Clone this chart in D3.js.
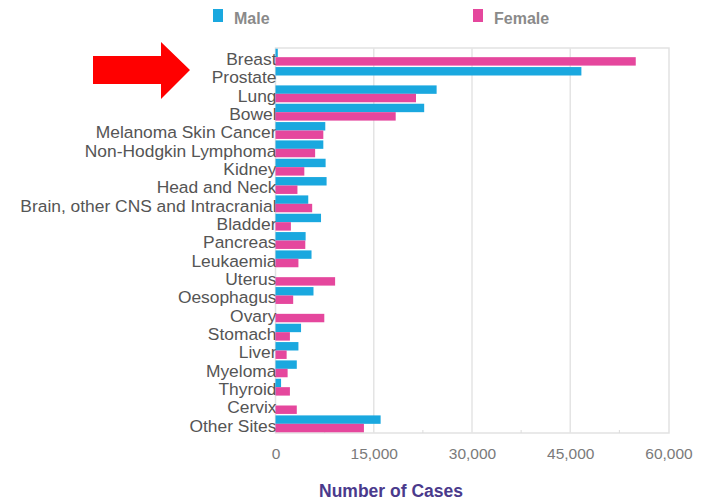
<!DOCTYPE html>
<html>
<head>
<meta charset="utf-8">
<script src="https://cdn.jsdelivr.net/npm/d3@7"></script>
<style>
  html, body { margin: 0; padding: 0; background: #fff; }
  svg { display: block; font-family: "Liberation Sans", Arial, sans-serif; }
</style>
</head>
<body>
<svg id="chart" width="712" height="501"></svg>
<script>
// Cancer sites, ordered top to bottom
const sites = [
  "Breast", "Prostate", "Lung", "Bowel", "Melanoma Skin Cancer",
  "Non-Hodgkin Lymphoma", "Kidney", "Head and Neck",
  "Brain, other CNS and Intracranial", "Bladder", "Pancreas", "Leukaemia",
  "Uterus", "Oesophagus", "Ovary", "Stomach", "Liver", "Myeloma",
  "Thyroid", "Cervix", "Other Sites"
];
// New cases per year
const maleCases = [
  350, 46700, 24600, 22700, 7600,
  7300, 7650, 7800,
  5000, 6950, 4600, 5500,
  0, 5800, 0, 3900, 3500, 3250,
  850, 0, 16050
];
const femaleCases = [
  55000, 0, 21450, 18350, 7300,
  6050, 4400, 3350,
  5600, 2350, 4550, 3500,
  9100, 2700, 7450, 2200, 1700, 1850,
  2200, 3250, 13500
];
const seriesNames = ["Male", "Female"];
const seriesColors = ["#1aa8df", "#e5479d"];
const xTicks = [0, 15000, 30000, 45000, 60000];
const xMinorTicks = [7500, 22500, 37500, 52500];

const svg = d3.select("#chart");
const plot = { left: 275.5, right: 669, top: 48, bottom: 433 };

const x = d3.scaleLinear().domain([0, 60000]).range([plot.left, 668.5]);
const y = d3.scaleBand().domain(sites).range([plot.top, plot.bottom])
  .paddingInner(0.08).paddingOuter(0.04);
const ySub = d3.scaleBand().domain(seriesNames).range([0, y.bandwidth()]);

// Plot frame and vertical gridlines
svg.append("rect")
  .attr("x", plot.left).attr("y", plot.top)
  .attr("width", plot.right - plot.left).attr("height", plot.bottom - plot.top)
  .attr("fill", "none").attr("stroke", "#e2e2e2").attr("stroke-width", 1.5);

svg.append("g").selectAll("line").data(xTicks.slice(1, -1)).join("line")
  .attr("x1", d => x(d)).attr("x2", d => x(d))
  .attr("y1", plot.top).attr("y2", plot.bottom)
  .attr("stroke", "#e4e4e4").attr("stroke-width", 1.5);

svg.append("g").selectAll("line").data(xMinorTicks).join("line")
  .attr("x1", d => x(d)).attr("x2", d => x(d))
  .attr("y1", plot.bottom - 3).attr("y2", plot.bottom)
  .attr("stroke", "#dcdcdc").attr("stroke-width", 1);

// X axis tick labels
const xAxis = d3.axisBottom(x).tickValues(xTicks).tickSize(0).tickPadding(0)
  .tickFormat(d3.format(","));
const gx = svg.append("g").attr("transform", `translate(0,${plot.bottom + 15})`).call(xAxis);
gx.select(".domain").remove();
gx.selectAll("text")
  .attr("dy", "0.71em")
  .attr("fill", "#7a7a7a").attr("font-size", 15.5);

// Category labels (bars are drawn afterwards and overlap their last pixels)
const yAxis = d3.axisLeft(y).tickSize(0).tickPadding(0);
const gy = svg.append("g").attr("transform", `translate(${plot.left + 1},0)`).call(yAxis);
gy.select(".domain").remove();
gy.selectAll("text")
  .attr("fill", "#555").attr("font-size", 17.4)
  .attr("dy", "0.45em");

// Bars
const rows = sites.map((s, i) => ({ site: s, values: [maleCases[i], femaleCases[i]] }));
svg.append("g").selectAll("g").data(rows).join("g")
  .attr("transform", d => `translate(0,${y(d.site)})`)
  .selectAll("rect")
  .data(d => d.values.map((v, j) => ({ key: seriesNames[j], value: v, color: seriesColors[j] })))
  .join("rect")
  .attr("x", x(0))
  .attr("y", d => ySub(d.key))
  .attr("width", d => x(d.value) - x(0))
  .attr("height", ySub.bandwidth())
  .attr("fill", d => d.color);

// Axis title
svg.append("text")
  .attr("x", 391).attr("y", 497)
  .attr("text-anchor", "middle")
  .attr("font-size", 17.5).attr("font-weight", "bold")
  .attr("fill", "#4a3a8c")
  .text("Number of Cases");

// Legend
const legendPos = [213, 473];
const legend = svg.append("g").selectAll("g").data(seriesNames).join("g")
  .attr("transform", (d, i) => `translate(${legendPos[i]},0)`);
legend.append("rect")
  .attr("x", 0).attr("y", 9).attr("width", 10).attr("height", 13)
  .attr("fill", (d, i) => seriesColors[i]);
legend.append("text")
  .attr("x", 21).attr("y", 24)
  .attr("font-size", 16).attr("font-weight", "bold")
  .attr("fill", "#8a8a8a")
  .text(d => d);

// Red pointer arrow beside the top rows
svg.append("path")
  .attr("d", "M93,56 L161,56 L161,42 L190,70 L161,99 L161,84 L93,84 Z")
  .attr("fill", "#ff0000");
</script>
</body>
</html>
